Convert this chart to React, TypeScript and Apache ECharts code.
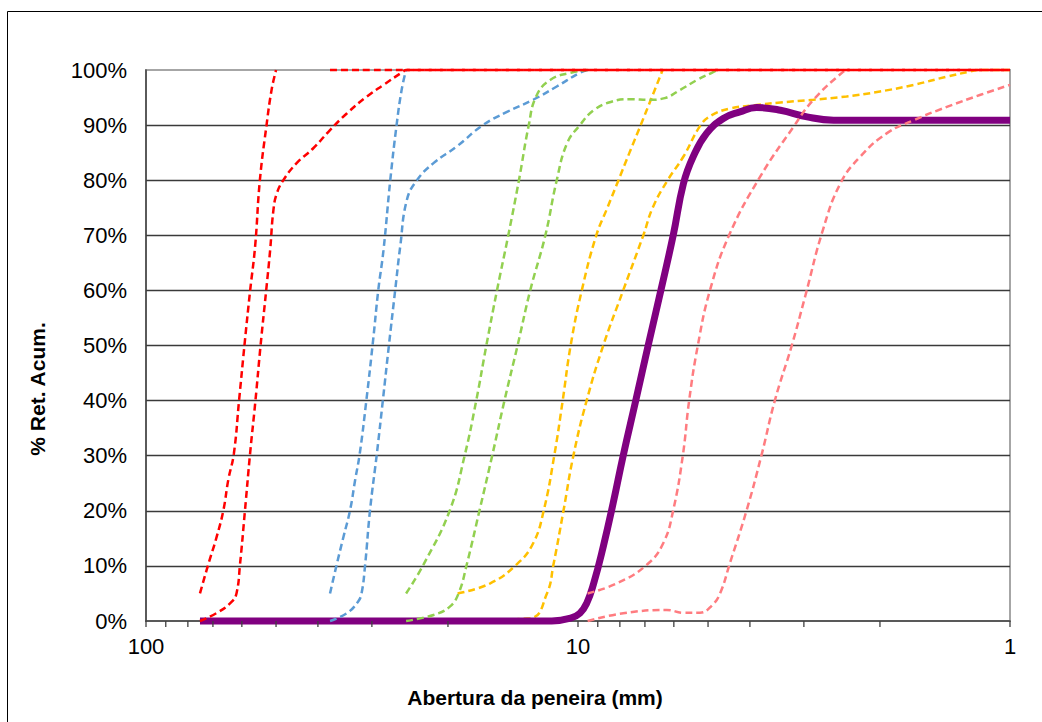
import React, { useEffect, useRef } from "react";
import * as echarts from "echarts";

// Sieve opening (mm) vs % retained accumulated
const red1: number[][] = [[75, 5], [71.8, 10.2], [68.6, 15.3], [66.2, 20.1], [64.5, 25.6], [62.6, 30.4], [60.9, 40], [59, 51], [57.4, 60], [55.9, 68], [54.5, 80], [52.6, 90], [51.2, 96.4], [50, 100]];
const redTop: number[][] = [[37.5, 100], [1, 100]];
const red2: number[][] = [[75, 0], [68.6, 1.45], [63.3, 3.5], [61.7, 5.1], [60.6, 10.2], [59, 20.1], [57.4, 30.5], [55.8, 40], [54.3, 50], [52.7, 60], [51.6, 67.3], [50.7, 74.6], [49.8, 77.6], [48.1, 80], [44.8, 83.1], [41, 85.8], [37.5, 89.1], [34.3, 92.1], [30.8, 95.2], [28.2, 97.3], [25.4, 99.7], [25, 100], [1, 100]];
const blue1: number[][] = [[37.5, 5], [36.2, 10.2], [34.9, 15.3], [33.7, 20.1], [32.8, 25.6], [32, 30.4], [30.9, 40], [29.8, 51], [29, 60], [28.2, 67.3], [27.2, 80], [26.3, 90], [25.6, 96.4], [25, 100]];
const blue2: number[][] = [[37.5, 0], [34.3, 1.4], [32.3, 3.5], [31.7, 5], [31.1, 10.2], [30.3, 20.1], [29.2, 30.5], [28.3, 40], [27.4, 50], [26.5, 60], [25.8, 67.9], [24.9, 76.4], [23.6, 80], [21.6, 83.1], [19.1, 86.1], [16.6, 90], [14.6, 92.4], [12.7, 94.6], [11.2, 97], [9.9, 99.5], [9.5, 100]];
const green1: number[][] = [[25, 5], [22.8, 10.2], [19.8, 20.1], [18.3, 30], [17.2, 40], [16.3, 50], [15.4, 60], [14.5, 70], [13.7, 80], [13, 90], [12.5, 95.2], [11.6, 98.2], [10.4, 99.5], [9.5, 100]];
const green2: number[][] = [[25, 0], [21.6, 1.1], [19.8, 2.6], [18.9, 5], [18.1, 10.2], [16.9, 20.1], [15.8, 30], [14.8, 40], [13.8, 50], [12.9, 60], [11.9, 70], [11.2, 80], [10.6, 86.7], [9.9, 90], [9.2, 92.7], [8.4, 94.2], [7.6, 94.7], [6.8, 94.6], [6.3, 94.9], [5.8, 96.4], [5.3, 98.2], [4.9, 99.5], [4.75, 100]];
const yellow1: number[][] = [[19, 5], [16, 6.8], [13.9, 10.2], [12.7, 14.1], [12, 20.1], [11.35, 30], [10.85, 40], [10.4, 50], [9.8, 60], [9.07, 70], [8.55, 75], [8.06, 80], [7.6, 85], [7.16, 90], [6.75, 95], [6.37, 100]];
const yellow2: number[][] = [[19, 0], [12.9, 0.5], [11.8, 5], [11.4, 10.2], [10.8, 20.1], [10.25, 30], [9.55, 40], [8.74, 50], [7.86, 60], [7.06, 70], [6.7, 75.2], [6.2, 80], [5.7, 84.3], [5.2, 90], [4.9, 91.8], [4.45, 93], [3.9, 93.6], [3.4, 94.1], [2.85, 94.6], [2.39, 95.2], [2, 96.1], [1.67, 97.3], [1.4, 98.8], [1.24, 99.7], [1.18, 100], [1, 100]];
const purple: number[][] = [[75, 0], [25, 0], [15, 0], [11.5, 0], [10.4, 0.5], [9.9, 1.4], [9.55, 3.2], [9.2, 6.8], [8.74, 13.5], [8.29, 21.4], [7.86, 30], [7.35, 40], [6.88, 50], [6.43, 60], [6.02, 70], [5.7, 79.4], [5.41, 84.3], [5.04, 88.5], [4.61, 91.2], [4.22, 92.4], [3.86, 93.2], [3.4, 92.7], [2.95, 91.5], [2.56, 90.9], [2.19, 90.9], [1, 90.9]];
const pink1: number[][] = [[9.5, 5], [8.14, 6.8], [6.93, 10.2], [6.35, 14.1], [6.02, 20.1], [5.72, 30], [5.53, 40], [5.28, 50], [4.95, 60], [4.47, 70], [3.79, 80.6], [3.17, 89.7], [2.85, 94.6], [2.43, 99.7], [2.36, 100]];
const pink2: number[][] = [[9.5, 0], [7.86, 1.4], [6.23, 2], [5.7, 1.5], [5.22, 1.5], [4.9, 2.8], [4.69, 5], [4.45, 10.5], [4.07, 20.1], [3.76, 30.1], [3.5, 40.1], [3.2, 50], [2.98, 58.9], [2.71, 71], [2.47, 79.4], [2.22, 84.3], [1.93, 88.5], [1.67, 90.9], [1.4, 93.3], [1.17, 95.5], [1, 97.3]];

const xTickValues: number[] = [100, 90, 80, 70, 60, 50, 40, 30, 20, 10, 9, 8, 7, 6, 5, 4, 3, 2, 1];

const RED = "#FF0000";
const BLUE = "#5B9BD5";
const GREEN = "#92D050";
const YELLOW = "#FFC000";
const PINK = "#FF7C80";
const PURPLE = "#800080";
const FONT = '"Liberation Sans", Arial, sans-serif';

function dashed(name: string, data: number[][], color: string) {
  return {
    name,
    type: "line",
    data,
    smooth: 0.45,
    symbol: "none",
    showSymbol: false,
    clip: false,
    lineStyle: { color, width: 2.5, type: [7, 4] },
  };
}

export default function App() {
  const ref = useRef<HTMLDivElement>(null);
  useEffect(() => {
    const chart = echarts.init(ref.current as HTMLDivElement, null, { renderer: "svg" });
    const option: any = {
      animation: false,
      backgroundColor: "#ffffff",
      grid: {
        left: 146,
        right: 32,
        top: 70,
        bottom: 101,
        show: true,
        borderColor: "#A6A6A6",
        borderWidth: 2,
        backgroundColor: "transparent",
      },
      xAxis: {
        type: "log",
        logBase: 10,
        min: 1,
        max: 100,
        inverse: true,
        axisLine: { show: true, lineStyle: { color: "#404040", width: 1.5 } },
        axisTick: { show: false },
        minorTick: { show: false },
        splitLine: { show: false },
        axisLabel: {
          fontSize: 22,
          color: "#000",
          fontFamily: FONT,
          margin: 14,
          formatter: (v: number) => String(Math.round(v)),
        },
      },
      yAxis: {
        type: "value",
        min: 0,
        max: 100,
        interval: 10,
        axisLine: { show: true, lineStyle: { color: "#404040", width: 1.5 } },
        axisTick: { show: false },
        axisLabel: {
          fontSize: 22,
          color: "#000",
          fontFamily: FONT,
          margin: 19,
          formatter: "{value}%",
        },
        splitLine: {
          show: true,
          showMinLine: false,
          showMaxLine: false,
          lineStyle: { color: "#3A3A3A", width: 1.3 },
        },
      },
      graphic: [
        {
          type: "rect",
          shape: { x: 7.5, y: 11.5, width: 1100, height: 800 },
          style: { fill: "none", stroke: "#000", lineWidth: 1 },
          silent: true,
        },
        {
          type: "text",
          x: 37,
          y: 389,
          rotation: Math.PI / 2,
          style: {
            text: "% Ret. Acum.",
            fontSize: 21,
            fontWeight: "bold",
            fontFamily: FONT,
            fill: "#000",
            align: "center",
            verticalAlign: "middle",
          },
        },
        {
          type: "text",
          x: 535,
          y: 697,
          style: {
            text: "Abertura da peneira (mm)",
            fontSize: 21,
            fontWeight: "bold",
            fontFamily: FONT,
            fill: "#000",
            align: "center",
            verticalAlign: "middle",
          },
        },
      ],
      series: [
        dashed("Faixa 4 inferior", yellow1, YELLOW),
        dashed("Faixa 4 superior", yellow2, YELLOW),
        {
          name: "Amostra",
          type: "line",
          data: purple,
          smooth: 0.45,
          symbol: "none",
          showSymbol: false,
          clip: false,
          lineStyle: { color: PURPLE, width: 7 },
        },
        dashed("Faixa 2 inferior", blue1, BLUE),
        dashed("Faixa 2 superior", blue2, BLUE),
        dashed("Faixa 3 inferior", green1, GREEN),
        dashed("Faixa 3 superior", green2, GREEN),
        dashed("Faixa 5 inferior", pink1, PINK),
        dashed("Faixa 5 superior", pink2, PINK),
        dashed("Faixa 1 inferior", red1, RED),
        dashed("Faixa 1 topo", redTop, RED),
        dashed("Faixa 1 superior", red2, RED),
        {
          name: "ticks",
          type: "custom",
          silent: true,
          clip: false,
          z: 5,
          data: xTickValues.map((v) => [v, 0]),
          renderItem: (params: any, api: any) => {
            const p = api.coord([api.value(0), 0]);
            return {
              type: "line",
              shape: { x1: p[0], y1: p[1], x2: p[0], y2: p[1] + 6 },
              style: { stroke: "#404040", lineWidth: 1.3 },
            };
          },
        },
      ],
    };
    chart.setOption(option);
    return () => chart.dispose();
  }, []);
  return (
    <div
      ref={ref}
      style={{ position: "fixed", left: 0, top: 0, width: 1042, height: 722, background: "#fff" }}
    />
  );
}
